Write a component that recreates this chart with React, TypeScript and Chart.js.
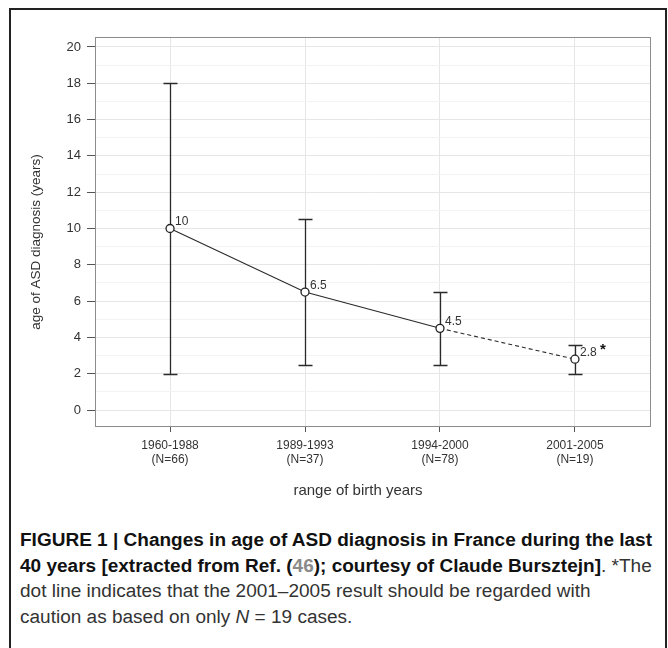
import React, { useEffect, useLayoutEffect, useRef } from 'react';
import { Chart, registerables } from 'chart.js';

Chart.register(...registerables);

// ---- data ----
const categories = ['1960-1988', '1989-1993', '1994-2000', '2001-2005'];
const sampleSizes = [66, 37, 78, 19];
const meanAge = [10, 6.5, 4.5, 2.8];
const lowerAge = [2, 2.5, 2.5, 2];
const upperAge = [18, 10.5, 6.5, 3.6];
const pointNotes = ['', '', '', '*'];
const yMajorTicks = [0, 2, 4, 6, 8, 10, 12, 14, 16, 18, 20];
const yMinorTicks = [1, 3, 5, 7, 9, 11, 13, 15, 17, 19];
const xTitle = 'range of birth years';
const yTitle = 'age of ASD diagnosis (years)';
const dashedFromIndex = 3;

const FONT = "'Liberation Sans', Arial, Helvetica, sans-serif";

const frameAndBars = {
  id: 'frameAndBars',
  beforeDatasetsDraw(chart: any) {
    const { ctx, chartArea: a, scales } = chart;
    const x = scales.x;
    const y = scales.y;
    ctx.save();
    ctx.strokeStyle = '#8c8c8c';
    ctx.lineWidth = 1;
    ctx.strokeRect(Math.round(a.left) + 0.5, Math.round(a.top) + 0.5, Math.round(a.right - a.left), Math.round(a.bottom - a.top));
    ctx.strokeStyle = '#2a2a2a';
    ctx.lineWidth = 1.3;
    categories.forEach((_, i) => {
      const px = Math.round(x.getPixelForValue(i)) + 0.5;
      const top = Math.round(y.getPixelForValue(upperAge[i])) + 0.5;
      const bot = Math.round(y.getPixelForValue(lowerAge[i])) + 0.5;
      ctx.beginPath();
      ctx.moveTo(px, top);
      ctx.lineTo(px, bot);
      ctx.moveTo(px - 7, top);
      ctx.lineTo(px + 7, top);
      ctx.moveTo(px - 7, bot);
      ctx.lineTo(px + 7, bot);
      ctx.stroke();
    });
    ctx.restore();
  },
};

const labelsAndTitles = {
  id: 'labelsAndTitles',
  afterDraw(chart: any) {
    const { ctx, chartArea: a, scales } = chart;
    const x = scales.x;
    const y = scales.y;
    ctx.save();
    ctx.fillStyle = '#333';
    ctx.font = `12px ${FONT}`;
    ctx.textAlign = 'left';
    ctx.textBaseline = 'middle';
    meanAge.forEach((m, i) => {
      const px = x.getPixelForValue(i);
      const py = y.getPixelForValue(m);
      ctx.fillText(String(m), px + 5, py - 6.5);
      if (pointNotes[i]) {
        ctx.save();
        ctx.fillStyle = '#111';
        ctx.font = `bold 15px ${FONT}`;
        ctx.textBaseline = 'alphabetic';
        ctx.fillText(pointNotes[i], px + 25, py - 5.5);
        ctx.restore();
      }
    });
    // axis titles
    ctx.fillStyle = '#333';
    ctx.textAlign = 'center';
    ctx.textBaseline = 'middle';
    ctx.font = `15px ${FONT}`;
    ctx.fillText(xTitle, a.left + 263, a.bottom + 65);
    ctx.save();
    ctx.translate(a.left - 59, a.top + 205);
    ctx.rotate(-Math.PI / 2);
    ctx.font = `13.5px ${FONT}`;
    ctx.fillText(yTitle, 0, 0);
    ctx.restore();
    ctx.restore();
  },
};

export default function App() {
  const canvasRef = useRef<HTMLCanvasElement | null>(null);
  const captionRef = useRef<HTMLDivElement | null>(null);
  const firstLineRef = useRef<HTMLSpanElement | null>(null);

  useLayoutEffect(() => {
    const el = captionRef.current;
    const first = firstLineRef.current;
    if (el && first) {
      const w = first.getBoundingClientRect().width;
      if (w > 0) el.style.transform = `scaleX(${632 / w})`;
    }
  }, []);

  useEffect(() => {
    if (!canvasRef.current) return;
    const chart = new Chart(canvasRef.current, {
      type: 'line',
      data: {
        datasets: [
          {
            data: meanAge.map((m, i) => ({ x: i, y: m })),
            borderColor: '#2a2a2a',
            borderWidth: 1.1,
            pointRadius: 4,
            pointBackgroundColor: '#fff',
            pointBorderColor: '#222',
            pointBorderWidth: 1.3,
            tension: 0,
            segment: {
              borderDash: (ctx: any) => (ctx.p1DataIndex >= dashedFromIndex ? [4, 3] : undefined),
            },
          },
        ],
      },
      options: {
        animation: false,
        responsive: false,
        maintainAspectRatio: false,
        devicePixelRatio: 1,
        layout: { padding: { top: 27, right: 11, left: 0, bottom: 0 } },
        plugins: { legend: { display: false }, tooltip: { enabled: false } },
        scales: {
          x: {
            type: 'linear',
            min: -0.556,
            max: 3.556,
            afterBuildTicks: (scale: any) => {
              scale.ticks = categories.map((_, i) => ({ value: i }));
            },
            afterFit: (scale: any) => {
              scale.height = 94;
            },
            border: { display: false },
            grid: {
              color: '#e6e6e6',
              lineWidth: 1,
              tickLength: 6,
              tickColor: '#555',
              drawTicks: true,
            },
            ticks: {
              autoSkip: false,
              maxRotation: 0,
              padding: 7,
              color: '#333',
              font: { family: FONT, size: 12, lineHeight: 1.17 },
              callback: (v: any) => {
                const i = Math.round(Number(v));
                return [categories[i], `(N=${sampleSizes[i]})`];
              },
            },
          },
          y: {
            type: 'linear',
            min: -0.88,
            max: 20.55,
            afterBuildTicks: (scale: any) => {
              scale.ticks = [...yMajorTicks, ...yMinorTicks]
                .sort((a, b) => a - b)
                .map((v) => ({ value: v }));
            },
            afterFit: (scale: any) => {
              scale.width = 84;
            },
            border: { display: false },
            grid: {
              color: (ctx: any) => (yMajorTicks.includes(ctx.tick?.value) ? '#e6e6e6' : '#f3f3f3'),
              tickColor: (ctx: any) => (yMajorTicks.includes(ctx.tick?.value) ? '#555' : 'rgba(0,0,0,0)'),
              tickLength: 8,
              lineWidth: 1,
            },
            ticks: {
              autoSkip: false,
              padding: 6,
              color: '#333',
              font: { family: FONT, size: 13 },
              callback: (v: any) => (yMajorTicks.includes(Number(v)) ? String(v) : ''),
            },
          },
        },
      },
      plugins: [frameAndBars, labelsAndTitles],
    } as any);
    return () => chart.destroy();
  }, []);

  return (
    <div style={{ position: 'fixed', left: 0, top: 0, width: 668, height: 648, overflow: 'hidden', background: '#fff' }}>
      <div
        style={{
          position: 'absolute',
          left: 9,
          top: 8,
          width: 658,
          height: 720,
          border: '2px solid #222',
          boxSizing: 'border-box',
        }}
      />
      <canvas
        ref={canvasRef}
        width={650}
        height={510}
        style={{ position: 'absolute', left: 11, top: 10, width: 650, height: 510 }}
      />
      <div
        ref={captionRef}
        style={{
          position: 'absolute',
          left: 20,
          top: 528,
          fontFamily: FONT,
          fontSize: 18,
          lineHeight: '25.5px',
          color: '#333',
          whiteSpace: 'nowrap',
          transformOrigin: 'left top',
        }}
      >
        <div>
          <span ref={firstLineRef} style={{ fontWeight: 'bold', color: '#111' }}>
            FIGURE 1 | Changes in age of ASD diagnosis in France during the last
          </span>
        </div>
        <div>
          <span style={{ fontWeight: 'bold', color: '#111' }}>
            40 years [extracted from Ref. (<span style={{ color: '#8a8a8a' }}>46</span>); courtesy of Claude Bursztejn]
          </span>
          . *The
        </div>
        <div>dot line indicates that the 2001–2005 result should be regarded with</div>
        <div>
          caution as based on only <i>N</i> = 19 cases.
        </div>
      </div>
    </div>
  );
}
